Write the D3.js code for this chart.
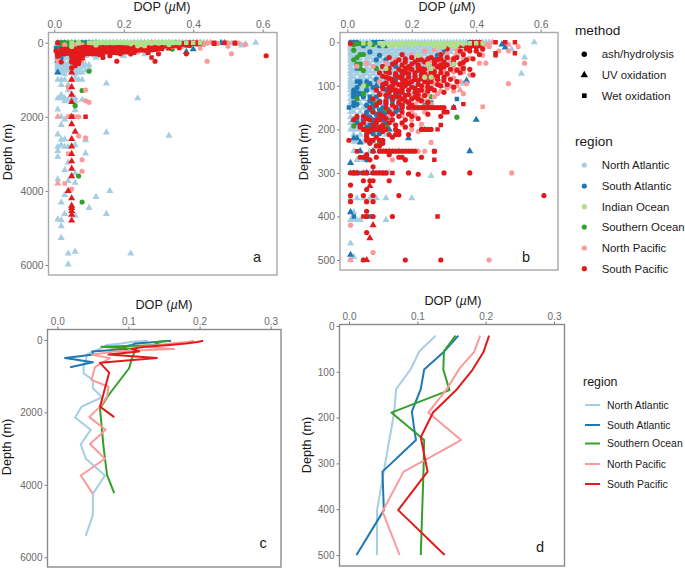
<!DOCTYPE html>
<html><head><meta charset="utf-8">
<script src="https://cdn.jsdelivr.net/npm/d3@7/dist/d3.min.js"></script>
<style>html,body{margin:0;padding:0;background:#fff}svg{display:block}text{font-family:"Liberation Sans",Arial,sans-serif}</style>
</head><body><svg id="c" width="685" height="568"></svg>
<script>
const regionNames=["North Atlantic","South Atlantic","Indian Ocean","Southern Ocean","North Pacific","South Pacific"];
const regionColors=["#a6cee3","#1f78b4","#b2df8a","#33a02c","#fb9a99","#e31a1c"];
const methodNames=["ash/hydrolysis","UV oxidation","Wet oxidation"];
const lineRegions=["North Atlantic","South Atlantic","Southern Ocean","North Pacific","South Pacific"];
// rows: [depth, [DOP values]]
const naTri=[
[0,[.01,.02,.03,.04,.05,.06,.07,.08,.09,.1,.11,.12,.13,.14,.15,.16,.17,.18,.19,.2,.21,.22,.23,.24,.25,.26,.27,.28,.29,.3,.31,.32,.33,.34,.35,.36,.37,.38,.39,.4,.41,.42,.43,.44,.58]],
[5,[.01,.02,.04,.05,.07,.09,.1,.12,.13,.15,.17,.18,.2,.22,.23,.25,.27,.28,.3,.31,.33,.35,.36,.38,.4,.42,.44]],
[10,[.01,.02,.03,.05,.06,.08,.1,.11,.13,.14,.16,.18,.19,.21,.23,.24,.26,.28,.3,.32,.34,.38,.42]],
[16,[.01,.03,.04,.06,.07,.09,.11,.12,.14,.16,.17,.19,.2,.22,.24,.25,.27,.29,.31,.33,.37,.51]],
[22,[.01,.02,.04,.05,.07,.08,.1,.12,.13,.15,.17,.18,.2,.21,.23,.25,.26,.28,.3,.32,.35]],
[28,[.01,.03,.05,.06,.08,.09,.11,.13,.14,.16,.18,.19,.21,.22,.24,.26,.28,.29,.31,.34]],
[35,[.01,.02,.04,.06,.07,.09,.1,.12,.14,.15,.17,.18,.2,.22,.23,.25,.27,.28,.3,.33,.55]],
[42,[.01,.03,.04,.06,.08,.09,.11,.12,.14,.16,.17,.19,.21,.22,.24,.26,.27,.29,.31]],
[50,[.01,.02,.04,.05,.07,.09,.1,.12,.13,.15,.17,.18,.2,.21,.23,.25,.27,.28,.3,.32]],
[58,[.01,.03,.04,.06,.08,.09,.11,.13,.14,.16,.18,.19,.21,.23,.24,.26,.28]],
[66,[.01,.02,.04,.06,.07,.09,.1,.12,.14,.15,.17,.19,.2,.22,.24,.25,.27,.33]],
[72,[.01,.03,.05,.06,.08,.1,.11,.13,.15,.16,.18,.2,.21,.23,.25,.54]],
[80,[.01,.02,.04,.05,.07,.09,.1,.12,.14,.16,.18,.2,.22,.24,.26]],
[88,[.01,.03,.04,.06,.08,.09,.11,.13,.15,.19,.21,.23,.25]],
[95,[.01,.02,.04,.05,.07,.09,.1,.12,.14,.2,.22,.24,.36]],
[102,[.01,.02,.03,.05,.06,.08,.1,.11,.13,.15,.21,.24,.26]],
[110,[.01,.02,.04,.05,.07,.09,.11,.12,.14,.23]],
[120,[.01,.02,.04,.06,.08,.1,.13,.2,.25]],
[130,[.01,.03,.05,.07,.09,.12,.15,.22]],
[140,[.01,.02,.04,.06,.08,.11,.14,.19]],
[150,[.01,.02,.03,.05,.07,.09,.12,.15,.17]],
[160,[.01,.02,.04,.06,.08,.11,.14]],
[172,[.01,.03,.05,.07,.1,.13]],
[185,[.01,.02,.04,.06,.09,.11,.14]],
[200,[.01,.02,.03,.05,.07,.1,.12,.13,.24]],
[212,[.02,.04,.06,.09,.12]],
[228,[.02,.03,.05,.08]],
[250,[.02,.04,.07,.1,.13,.16]],
[270,[.03,.05]],
[300,[.01,.02,.03,.05,.07,.1,.13]],
[307,[.26]],
[358,[.01,.03,.05,.07,.09,.12,.2]],
[390,[.02]],[408,[.01,.02,.03,.04,.12]],
[462,[.01]],[493,[.02]],[500,[.01,.05]],
[550,[.01,.02,.03,.04,.06,.08]],[600,[.01,.02,.03,.05,.07,.09,.1]],[650,[.01,.02,.04,.06,.08]],
[700,[.01,.02,.03,.05,.07,.1]],[750,[.01,.03,.04,.06,.09]],[800,[.01,.02,.05,.07,.08]],[850,[.03,.06]],
[960,[.06]],[980,[.05]],[1000,[.01,.02,.03,.07,.08]],[1100,[.15]],[1140,[.02,.04]],
[1280,[.04]],[1410,[.02]],[1500,[.01,.02,.03,.05,.06,.24]],[1540,[.04,.08]],[1580,[.03,.05,.06]],
[1800,[.01]],[1820,[.06]],[2000,[.02]],[2070,[.03]],[2220,[.02]],[2420,[.15]],[2475,[.01]],[2510,[.33]],
[2610,[.02,.03]],[2630,[.09]],[2760,[.02,.06]],[2810,[.01,.03,.04]],[2920,[.01]],[2990,[.09]],[3080,[.01]],
[3230,[.04]],[3440,[.03]],[3530,[.06]],[3690,[.01]],[3730,[.04]],[3780,[.06]],[4000,[.16]],[4110,[.03]],[4160,[.12]],
[4310,[.02]],[4460,[.1]],[4620,[.03,.15]],[4670,[.06]],[4770,[.01]],[4790,[.02]],[4950,[.02]],[5270,[.02]],
[5640,[.06]],[5690,[.04,.22]],[5985,[.04]]];
const saTri=[[5,[.48]],[12,[.49]],[88,[.37]],[100,[.09,.11]],[120,[.13,.16]],[150,[.33,.14]],[178,[.4,.02,.09]],[190,[.12]],[200,[.07,.13]],[220,[.19,.03,.02]],[230,[.04]],[250,[.38,.04,.08]],[277,[.01]],[300,[.06,.08]],[390,[.01]],[488,[.01]],[800,[.01]]];
const saCirc=[[0,[.01,.02,.03,.08,.09,.1,.11,.38,.4]],[8,[.05,.1,.12,.36]],[22,[.07,.3]],[30,[.1,.28]],[40,[.09,.12,.27]],[55,[.11,.15,.3]],[70,[.13,.17]],[85,[.09,.15]],[95,[.04,.07,.19]],[104,[.03,.08,.13]],[110,[.02,.06,.12,.17]],[118,[.02,.04,.1,.15]],[125,[.02,.05,.09,.13,.15]],[135,[.07,.1,.14,.18]],[142,[.03,.08,.12,.16]],[145,[.02,.06,.09,.17,.24]],[155,[.07,.1,.13,.16]],[160,[.06,.08,.11,.15]],[165,[.09,.12]],[172,[.07,.1,.13]],[178,[.05,.08,.11]],[185,[.03,.08,.12]],[195,[.06,.09,.11]],[210,[.1,.08]],[230,[.07]],[260,[.06]],[270,[.06]],[300,[.02]]];
const saSq=[[0,[.1,.38]],[60,[.03]],[90,[.03,.04,.06]],[115,[.02,.03]],[125,[.02,.03,.07]],[130,[.34]],[138,[.02,.25,.26]],[150,[.005,.08,.11]],[165,[.06,.09]],[175,[.03]],[190,[.04,.07]],[300,[.04,.06]],[400,[.02,.07]]];
const ioSq=[[2,[.05,.1,.11,.12,.13,.14,.15,.16,.17,.18,.19,.2,.22,.23,.25,.26,.27,.28,.29,.3,.31,.32,.33,.34,.35,.38,.4,.42]],[6,[.11,.13,.15,.17,.2,.24,.27,.28,.3,.32,.34]]];
const ioCirc=[[3,[.07,.21,.36]],[10,[.28,.3,.33]],[30,[.22]],[50,[.25,.33]],[60,[.12,.26]],[80,[.24,.26]],[100,[.05]]];
const soCirc=[[3,[.03,.04,.05,.06]],[5,[.02,.08]],[18,[.02]],[28,[.05,.04]],[35,[.03]],[40,[.02]],[50,[.03,.04]],[60,[.04,.09]],[65,[.05]],[100,[.06]],[118,[.05]],[125,[.26]],[130,[.03]],[140,[.09]],[155,[.12]],[172,[.34]],[192,[.02]],[195,[.12]],[210,[.06]],[232,[.1]],[770,[.1]],[1290,[.08]],[1700,[.06]],[3600,[.07]],[4300,[.08]]];
const npCirc=[[5,[.5,.42,.38,.28]],[10,[.53,.3,.33,.44]],[20,[.47,.4,.36,.24,.5]],[26,[.31,.34,.29]],[30,[.42,.34,.29,.2]],[36,[.36,.38,.33]],[40,[.37,.32,.26,.15]],[48,[.55,.41,.43,.35,.28,.12,.06]],[55,[.36,.3,.17,.08,.03]],[62,[.34,.27,.22,.35]],[68,[.33,.36,.3]],[75,[.38,.31,.25,.12]],[82,[.33,.3,.27]],[90,[.35,.29,.2,.1]],[95,[.5,.37,.27]],[100,[.34,.32,.24]],[105,[.31,.26,.15,.14]],[112,[.29,.24,.33]],[118,[.36,.28,.24,.11]],[125,[.23,.27,.2]],[135,[.23,.19,.16,.25]],[142,[.21,.26]],[150,[.22,.17,.14]],[160,[.2,.24]],[168,[.17,.13,.21]],[178,[.2,.14]],[188,[.23,.17]],[200,[.15,.2,.23]],[205,[.22]],[230,[.26]],[250,[.1,.12,.14,.22,.24]],[270,[.14,.18]],[300,[.51,.11]],[420,[.01]],[483,[.08]],[500,[.44]],[1280,[.09]],[1570,[.09]],[1610,[.1]],[2000,[.07]],[2520,[.07]],[2570,[.09]],[3160,[.08]],[3470,[.08]],[3950,[.05]],[1000,[.05]]];
const npSq=[[5,[.42,.43,.44,.39,.36]],[18,[.34,.42,.27]],[60,[.3,.33,.18]],[85,[.24,.28]],[120,[.25,.24]],[135,[.24,.25,.22]],[148,[.24,.42]],[500,[.01]],[1200,[.04]],[2000,[.04,.05,.06]],[3000,[.04]],[3800,[.03]]];
const npTri=[[0,[.41,.45]],[100,[.29,.31]],[110,[.35]],[150,[.21]],[2000,[.01]],[3800,[.01]]];
const spCirc=[[3,[.01,.28,.4]],[8,[.35,.39,.41]],[15,[.31,.37,.42]],[20,[.35,.38,.4]],[28,[.17,.29,.36,.41]],[35,[.13,.2,.26,.31,.34]],[38,[.18,.25,.29,.33,.39]],[40,[.16,.23,.28,.37]],[45,[.18,.21,.24,.3]],[46,[.15,.27,.33,.36]],[50,[.14,.2,.25,.27,.33,.35]],[52,[.17,.22,.29,.31]],[56,[.11,.19,.22,.28,.3]],[60,[.13,.18,.26,.29,.36]],[62,[.16,.2,.24,.32,.38]],[64,[.22,.34]],[67,[.12,.17,.23,.27]],[70,[.1,.13,.18,.21,.26,.29,.35]],[72,[.15,.19,.24,.31]],[75,[.15,.23,.27,.39]],[78,[.11,.17,.21,.28]],[80,[.12,.19,.25,.3,.16]],[83,[.13,.23,.26]],[85,[.17,.21,.28,.32,.14]],[88,[.18,.22,.3]],[90,[.14,.2,.24,.26,.34]],[93,[.12,.15,.19,.25]],[97,[.11,.16,.18,.22,.28,.31]],[100,[.14,.18,.23,.29]],[103,[.13,.2,.25,.33,.17]],[106,[.11,.17,.21,.26]],[110,[.09,.15,.19,.23,.27]],[112,[.13,.16,.25]],[115,[.17,.21,.3,.13]],[120,[.1,.19,.22]],[122,[.12,.18,.24,.15]],[126,[.14,.16,.21]],[130,[.08,.14,.2,.22,.17]],[134,[.12,.18,.23]],[138,[.1,.16,.19,.25,.12]],[144,[.09,.14,.17,.2]],[150,[.07,.12,.15,.17,.19,.21,.22,.23,.24,.25,.26,.27,.28,.29,.3]],[160,[.08,.13,.17,.3,.31]],[165,[.1,.14,.19,.25]],[170,[.03,.05,.11,.16,.2,.29]],[175,[.06,.12,.22]],[178,[.02,.07,.09,.14,.18,.1]],[185,[.05,.09,.13,.17]],[190,[.04,.08,.11,.15,.2]],[195,[.04,.1,.18]],[200,[.05,.06,.07,.08,.09,.1,.11,.12,.15,.23,.24,.25,.26]],[205,[.07,.11,.16]],[212,[.06,.13,.15,.16,.19]],[218,[.06,.09,.14]],[225,[.005,.06,.07,.08,.1,.11]],[232,[.07,.11]],[238,[.09,.1]],[250,[.08,.1,.11,.12,.13,.14,.15,.16,.17,.18,.19,.2,.21,.27]],[258,[.06,.13]],[264,[.04,.05,.06,.09,.16,.17,.23]],[270,[.07,.18]],[286,[.08]],[300,[.01,.02,.03,.05,.06,.08,.09,.1,.11,.12,.19,.3,.38]],[303,[.22]],[318,[.05,.07,.08,.13]],[328,[.01]],[338,[.06]],[352,[.01,.05,.08,.16,.61]],[366,[.01,.06,.08]],[388,[.06]],[400,[.06,.08,.14]],[437,[.06]],[500,[.18,.29,.05]]];
const spSq=[[0,[.46,.52,.49,.39,.41]],[12,[.37,.38,.4]],[25,[.46,.52]],[30,[.46]],[40,[.22,.27]],[60,[.19,.23]],[95,[.17,.12]],[110,[.14,.22]],[142,[.36]],[150,[.2,.24,.26,.33]],[190,[.29]],[200,[.28,.05,.08]],[250,[.27,.03]],[270,[.27]],[300,[.14,.12,.03]],[400,[.28,.05]],[2000,[.05,.09]]];
const spTri=[[330,[.07]],[420,[.08]],[450,[.07]],[500,[.06]],[800,[.05]],[1000,[.05]],[1200,[.05]],[1400,[.05]],[1600,[.05]],[2000,[.05]],[2200,[.05]],[2400,[.06]],[2600,[.05]],[2800,[.05]],[3000,[.05]],[3200,[.05]],[3400,[.05]],[3600,[.05]],[4000,[.04]],[4200,[.05]],[4400,[.05]],[4460,[.05]],[4540,[.05]],[4640,[.05]],[4800,[.05]]];
// South Pacific ash points below the 500 m limit of panel b
const spCircDeep=[[520,[.05,.07,.02]],[560,[.06,.07]],[620,[.06]],[680,[.05]]];
// average profiles: depth and DOP
const naProfile=[[21,.127],[55,.103],[95,.09],[138,.069],[190,.066],[249,.059],[300,.053],[402,.041],[500,.041],[690,.037],[920,.037],[1100,.05],[1330,.05],[1580,.063],[1840,.034],[2140,.025],[2480,.047],[2880,.033],[3270,.04],[3740,.067],[4250,.05],[4830,.05],[5410,.04]];
const saProfile=[[21,.16],[56,.139],[95,.11],[138,.105],[187,.092],[220,.095],[249,.098],[318,.049],[402,.051],[500,.011],[616,.05],[754,.018]];
const soProfile=[[21,.156],[55,.139],[95,.138],[140,.147],[189,.062],[249,.11],[318,.109],[500,.105],[780,.101],[1470,.074],[1890,.06],[2950,.065],[3730,.07],[4230,.08]];
const npProfile=[[21,.192],[57,.183],[92,.162],[138,.143],[189,.116],[249,.164],[293,.111],[318,.08],[405,.049],[500,.074],[750,.053],[1100,.048],[1290,.072],[1560,.07],[1840,.06],[2130,.045],[2480,.068],[2870,.046],[3280,.067],[3740,.033],[4250,.05]];
const spProfile=[[21,.205],[56,.197],[95,.181],[138,.158],[189,.123],[243,.105],[318,.115],[402,.072],[500,.14],[630,.06],[900,.073],[1840,.06],[2130,.08]];
const profiles=[naProfile,saProfile,soProfile,npProfile,spProfile];
const lineColors=["#a6cee3","#1f78b4","#33a02c","#fb9a99","#e31a1c"];

const scatterSeries=[
 [naTri,0,1],[saCirc,1,0],[saSq,1,2],[saTri,1,1],[soCirc,3,0],
 [npCirc,4,0],[npSq,4,2],[npTri,4,1],[spCirc,5,0],[spCircDeep,5,0],[spSq,5,2],[spTri,5,1],[ioSq,2,2],[ioCirc,2,0]];
const symTypes=[d3.symbolCircle,d3.symbolTriangle,d3.symbolSquare];
const symSizes=[21,22,20];
const svg=d3.select("#c");

function panel(o){
  const x=d3.scaleLinear().domain([0,o.xMaxV]).range([o.x0,o.x1]);
  const y=d3.scaleLinear().domain([0,o.yMaxV]).range([o.y0,o.y1]);
  const g=svg.append("g");
  const ax=g.append("g").attr("transform",`translate(0,${o.top})`).call(d3.axisTop(x).tickValues(o.xt).tickFormat(d3.format(".1f")).tickSize(3).tickPadding(2));
  const ay=g.append("g").attr("transform",`translate(${o.left},0)`).call(d3.axisLeft(y).tickValues(o.yt).tickFormat(d=>d).tickSize(3).tickPadding(2));
  [ax,ay].forEach(a=>{a.select(".domain").remove();a.selectAll("line").attr("stroke","#7f7f7f").attr("stroke-width",1);
    a.selectAll("text").attr("fill","#6a6a6a").attr("font-size",o.tickFs).attr("font-family",'"Liberation Sans",Arial,sans-serif');});
  const t=g.append("text").attr("x",o.tx).attr("y",o.ty).attr("text-anchor","middle").attr("font-size",12.7).attr("fill","#1a1a1a");
  t.append("tspan").text("DOP (");t.append("tspan").attr("font-style","italic").text("µ");t.append("tspan").text("M)");
  g.append("text").attr("transform",`translate(${o.lx},${o.ly}) rotate(-90)`).attr("text-anchor","middle").attr("font-size",12.7).attr("fill","#1a1a1a").text("Depth (m)");
  const cid="clip"+o.letter;
  svg.append("clipPath").attr("id",cid).append("rect").attr("x",o.left).attr("y",o.top).attr("width",o.right-o.left).attr("height",o.bottom-o.top);
  const pl=g.append("g").attr("clip-path",`url(#${cid})`);
  if(o.scatter){
    scatterSeries.forEach(([rows,r,m])=>{
      const pts=rows.flatMap(([d,xs])=>xs.map(v=>({d,v}))).filter(p=>p.d<=o.yMaxV);
      pl.append("g").selectAll("path").data(pts).join("path")
        .attr("d",d3.symbol().type(symTypes[m]).size(symSizes[m])())
        .attr("transform",p=>`translate(${x(p.v)},${y(p.d)})`).attr("fill",regionColors[r]);
    });
  } else {
    const line=d3.line().x(p=>x(p[1])).y(p=>y(p[0]));
    profiles.forEach((p,i)=>{
      pl.append("path").datum(p.filter(q=>q[0]<=o.yMaxV)).attr("d",line).attr("fill","none").attr("stroke",lineColors[i]).attr("stroke-width",2).attr("stroke-linejoin","round");
    });
  }
  g.append("rect").attr("x",o.left).attr("y",o.top).attr("width",o.right-o.left).attr("height",o.bottom-o.top).attr("fill","none").attr("stroke",o.frame).attr("stroke-width",1.4);
  g.append("text").attr("x",o.lettX).attr("y",o.lettY).attr("text-anchor","middle").attr("font-size",14.5).attr("fill","#1a1a1a").text(o.letter);
}
const ts=[0,.2,.4,.6],tl=[0,.1,.2,.3];
panel({letter:"a",scatter:true,left:48.5,right:277,top:32.5,bottom:275,x0:54.3,x1:262.7,y0:42.7,y1:265,xMaxV:.6,yMaxV:6000,xt:ts,yt:[0,2000,4000,6000],tx:162,ty:11,lx:12,ly:152,tickFs:10.4,frame:"#a8a8a8",lettX:257,lettY:262});
panel({letter:"b",scatter:true,left:340,right:558,top:32.5,bottom:270,x0:347.3,x1:540.7,y0:42.3,y1:260,xMaxV:.6,yMaxV:500,xt:ts,yt:[0,100,200,300,400,500],tx:447,ty:11,lx:308,ly:152,tickFs:10.4,frame:"#a8a8a8",lettX:526,lettY:262});
panel({letter:"c",scatter:false,left:47.5,right:281,top:329.5,bottom:567,x0:57.3,x1:270.7,y0:340,y1:557.3,xMaxV:.3,yMaxV:6000,xt:tl,yt:[0,2000,4000,6000],tx:164,ty:309,lx:11,ly:447,tickFs:10,frame:"#8a8a8a",lettX:263,lettY:548});
panel({letter:"d",scatter:false,left:339.5,right:564.5,top:324.5,bottom:566,x0:349,x1:554,y0:326,y1:555,xMaxV:.3,yMaxV:500,xt:tl,yt:[0,100,200,300,400,500],tx:453,ty:305,lx:311,ly:445,tickFs:10,frame:"#8a8a8a",lettX:540,lettY:552});

// legends
const leg=svg.append("g").attr("fill","#1a1a1a");
const title=(t,x,y,fs)=>leg.append("text").attr("x",x).attr("y",y).attr("font-size",fs).text(t);
title("method",575,35,13.6);
methodNames.forEach((n,i)=>{const yy=[54.3,75,95.7][i];
  leg.append("path").attr("d",d3.symbol().type(symTypes[i]).size(symSizes[i]+2)()).attr("transform",`translate(584.3,${yy})`).attr("fill","#000");
  leg.append("text").attr("x",601.7).attr("y",yy+3.8).attr("font-size",11.4).text(n);});
title("region",575,146,13.6);
regionNames.forEach((n,i)=>{const yy=[165,186,206.7,227,248,268.7][i];
  leg.append("circle").attr("cx",584.3).attr("cy",yy).attr("r",2.6).attr("fill",regionColors[i]);
  leg.append("text").attr("x",601.7).attr("y",yy+3.8).attr("font-size",11.4).text(n);});
title("region",583,386,12.4);
lineRegions.forEach((n,i)=>{const yy=[405,425,443.5,464,484][i];
  leg.append("line").attr("x1",585).attr("x2",600).attr("y1",yy).attr("y2",yy).attr("stroke",lineColors[i]).attr("stroke-width",2);
  leg.append("text").attr("x",607).attr("y",yy+3.6).attr("font-size",10.4).text(n);});
</script></body></html>
